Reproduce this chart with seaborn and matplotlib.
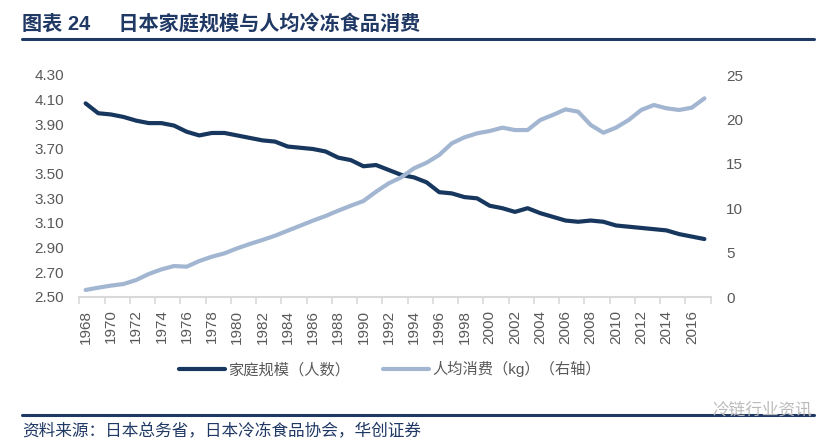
import matplotlib
matplotlib.use("Agg")
import matplotlib.pyplot as plt
import seaborn as sns
import pandas as pd
from matplotlib.lines import Line2D
from matplotlib.ticker import FixedLocator

years = list(range(1968, 2018))
household = [4.07, 3.99, 3.98, 3.96, 3.93, 3.91, 3.91, 3.89, 3.84, 3.81,
             3.83, 3.83, 3.81, 3.79, 3.77, 3.76, 3.72, 3.71, 3.70, 3.68,
             3.63, 3.61, 3.56, 3.57, 3.53, 3.49, 3.47, 3.43, 3.35, 3.34,
             3.31, 3.30, 3.24, 3.22, 3.19, 3.22, 3.18, 3.15, 3.12, 3.11,
             3.12, 3.11, 3.08, 3.07, 3.06, 3.05, 3.04, 3.01, 2.99, 2.97]
frozen = [0.79, 1.05, 1.28, 1.46, 1.91, 2.59, 3.11, 3.49, 3.41, 4.05,
          4.54, 4.92, 5.48, 5.97, 6.42, 6.90, 7.47, 8.03, 8.60, 9.12,
          9.72, 10.28, 10.81, 11.86, 12.80, 13.48, 14.49, 15.12, 15.99, 17.31,
          17.98, 18.43, 18.69, 19.07, 18.80, 18.80, 19.93, 20.50, 21.13, 20.87,
          19.37, 18.50, 19.07, 19.93, 21.06, 21.62, 21.25, 21.06, 21.32, 22.37]
left_ticks = [2.50, 2.70, 2.90, 3.10, 3.30, 3.50, 3.70, 3.90, 4.10, 4.30]
right_ticks = [0, 5, 10, 15, 20, 25]
label_years = list(range(1968, 2017, 2))

title_text = "图表 24     日本家庭规模与人均冷冻食品消费"
source_text = "资料来源：日本总务省，日本冷冻食品协会，华创证券"
name_house = "家庭规模（人数）"
name_frozen = "人均消费（kg）（右轴）"

dark = "#17375E"
light = "#A2B6D1"
navy = "#1F3864"
gray = "#595959"

sns.set_theme(style="white")
plt.rcParams['font.family'] = ['Liberation Sans', 'Noto Sans CJK SC', 'DejaVu Sans']

df = pd.DataFrame({"year": years, "house": household, "frozen": frozen})

fig = plt.figure(figsize=(8.36, 4.44), dpi=100)
ax = fig.add_axes([79.3 / 836, 1 - 297 / 444, (710.7 - 79.3) / 836, 222 / 444])
ax2 = ax.twinx()

sns.lineplot(data=df, x="year", y="house", ax=ax, color=dark, linewidth=3, legend=False)
sns.lineplot(data=df, x="year", y="frozen", ax=ax2, color=light, linewidth=3, legend=False)

ax.set_xlim(1967.5, 2017.5)
ax.set_ylim(2.50, 4.30)
ax2.set_ylim(0, 25)
ax.set_yticks(left_ticks)
ax.set_yticklabels([f"{v:.2f}" for v in left_ticks])
ax2.set_yticks(right_ticks)
ax2.set_yticklabels([str(v) for v in right_ticks])

ax.set_xticks(label_years)
ax.set_xticklabels([str(y) for y in label_years], rotation=90)
ax.xaxis.set_minor_locator(FixedLocator([1967.5 + 2 * k for k in range(26)]))
ax.tick_params(axis="x", which="major", length=0, pad=9, labelsize=11, labelcolor=gray)
ax.tick_params(axis="x", which="minor", length=5, width=1.2, color="#D9D9D9", bottom=True)
ax.tick_params(axis="y", length=0, pad=11, labelsize=11, labelcolor=gray)
ax2.tick_params(axis="y", length=0, pad=11, labelsize=11, labelcolor=gray)

for a in (ax, ax2):
    a.set_xlabel("")
    a.set_ylabel("")
    a.grid(False)
    for s in ("top", "left", "right"):
        a.spines[s].set_visible(False)
ax.spines["bottom"].set_color("#D9D9D9")
ax.spines["bottom"].set_linewidth(1.5)
ax2.spines["bottom"].set_visible(False)

handles = [Line2D([], [], color=dark, lw=3), Line2D([], [], color=light, lw=3)]
fig.legend(handles, [name_house, name_frozen], loc="center",
           bbox_to_anchor=(390 / 836, 1 - 369 / 444), ncol=2, frameon=False,
           fontsize=11, handlelength=3.0, handletextpad=0.2, columnspacing=2.2,
           labelcolor=gray)

fig.text(22 / 836, 1 - 24 / 444, title_text, fontsize=14.5, fontweight="bold",
         color=navy, ha="left", va="center")
fig.add_artist(Line2D([22 / 836, 814 / 836], [1 - 39.5 / 444, 1 - 39.5 / 444],
                      color=navy, lw=2.2, transform=fig.transFigure))
fig.add_artist(Line2D([22 / 836, 814 / 836], [1 - 415 / 444, 1 - 415 / 444],
                      color=navy, lw=2.2, transform=fig.transFigure))
fig.text(22 / 836, 1 - 431 / 444, source_text, fontsize=12, style="italic",
         color=navy, ha="left", va="center")
fig.text(812 / 836, 1 - 410 / 444, "冷链行业资讯", fontsize=12, color="#BBBBBB",
         ha="right", va="center")

fig.savefig("out.png", dpi=100)
